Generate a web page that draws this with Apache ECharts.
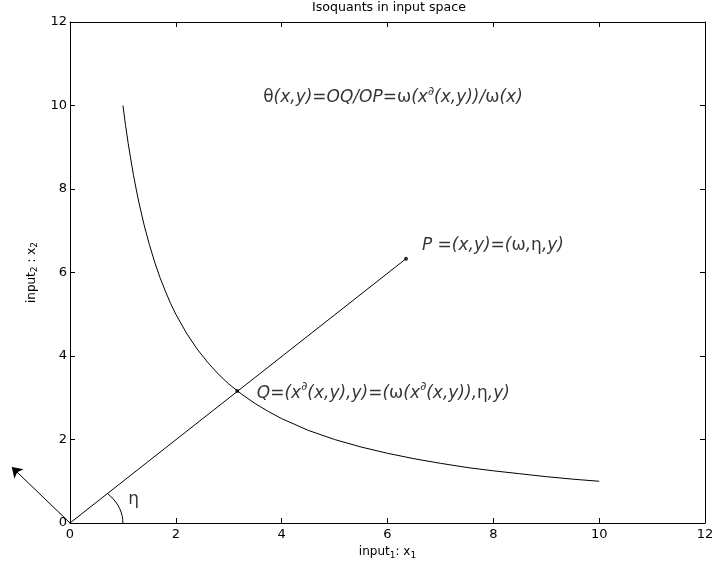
<!DOCTYPE html>
<html>
<head>
<meta charset="utf-8">
<script src="https://cdn.jsdelivr.net/npm/echarts@6/dist/echarts.min.js"></script>
<style>
  html, body { margin: 0; padding: 0; background: #fff; }
  #main { width: 714px; height: 569px; }
</style>
</head>
<body>
<div id="main"></div>
<script>
  // isoquant curve
  var curveX = [1, 1.05, 1.1, 1.15, 1.2, 1.25, 1.3, 1.4, 1.5, 1.6, 1.7, 1.8, 1.9, 2, 2.2, 2.4, 2.6, 2.8, 3, 3.25, 3.5, 3.75, 4, 4.5, 5, 5.5, 6, 6.5, 7, 7.5, 8, 8.5, 9, 9.5, 10]
  var curveY = [10, 9.52, 9.09, 8.7, 8.33, 8, 7.69, 7.14, 6.67, 6.25, 5.88, 5.56, 5.26, 5, 4.55, 4.17, 3.85, 3.57, 3.33, 3.08, 2.86, 2.67, 2.5, 2.22, 2, 1.82, 1.67, 1.54, 1.43, 1.33, 1.25, 1.18, 1.11, 1.05, 1]
  // ray O -> P
  var rayX = [0, 6.35]
  var rayY = [0, 6.33]
  // angle arc (eta), radius 1
  var arcX = [1, 0.996, 0.985, 0.966, 0.940, 0.906, 0.866, 0.819, 0.766, 0.707]
  var arcY = [0, 0.087, 0.174, 0.259, 0.342, 0.423, 0.5, 0.574, 0.643, 0.707]
  // arrow from origin
  var arrowFrom = [0, 0]
  var arrowTo = [-1.1, 1.34]
  // marked points
  var pointP = [6.35, 6.33]
  var pointQ = [3.16, 3.16]
  // annotation anchors
  var thetaPos = [3.65, 10.18]
  var pLabelPos = [6.65, 6.64]
  var qLabelPos = [3.53, 3.11]
  var etaPos = [1.1, 0.55]
  var xTicks = [0, 2, 4, 6, 8, 10, 12]
  var yTicks = [0, 2, 4, 6, 8, 10, 12]

  function zip(a, b) {
    return a.map(function(v, i) { return [v, b[i]] })
  }

  var font = 'DejaVu Sans, sans-serif'
  var big = 17
  var richMath = {
    it: { fontFamily: font, fontStyle: 'italic', fontSize: big, color: '#000' },
    up: { fontFamily: font, fontSize: big, color: '#000' },
    sup: { fontFamily: font, fontStyle: 'italic', fontSize: 12, color: '#000', padding: [0, 0, 12, 0] }
  }
  var richName = {
    n: { fontFamily: font, fontSize: 12, color: '#000' },
    s: { fontFamily: font, fontSize: 9, color: '#000', padding: [7, 0, 0, 0] }
  }

  var axisCommon = {
    type: 'value',
    min: 0,
    max: 12,
    interval: 2,
    axisLine: { show: true, onZero: false, lineStyle: { color: '#000', width: 1 } },
    axisTick: { show: true, inside: true, length: 5, lineStyle: { color: '#000' } },
    splitLine: { show: false }
  }

  var chart = echarts.init(document.getElementById('main'), null, { renderer: 'canvas' })
  chart.setOption({
    backgroundColor: '#fff',
    animation: false,
    title: {
      text: 'Isoquants in input space',
      left: 312,
      top: 1,
      padding: 0,
      textStyle: { fontFamily: font, fontSize: 12.6, fontWeight: 'normal', color: '#000' }
    },
    grid: { left: 70, right: 9, top: 22, bottom: 46, containLabel: false, outerBoundsMode: 'none' },
    xAxis: [
      Object.assign({}, axisCommon, {
        position: 'bottom',
        axisLabel: {
          color: '#000', fontFamily: font, fontSize: 13, margin: 5,
          formatter: function(v) { return xTicks.indexOf(v) >= 0 ? String(v) : '' }
        },
        name: '{n|input}{s|1}{n|: x}{s|1}',
        nameLocation: 'middle',
        nameGap: 18,
        nameTextStyle: { rich: richName }
      }),
      Object.assign({}, axisCommon, {
        position: 'top',
        axisLabel: { show: false }
      })
    ],
    yAxis: [
      Object.assign({}, axisCommon, {
        position: 'left',
        axisLabel: {
          color: '#000', fontFamily: font, fontSize: 13, margin: 3,
          formatter: function(v) { return yTicks.indexOf(v) >= 0 ? String(v) : '' }
        },
        name: '{n|input}{s|2}{n| : x}{s|2}',
        nameLocation: 'middle',
        nameGap: 28,
        nameRotate: 90,
        nameTextStyle: { rich: richName }
      }),
      Object.assign({}, axisCommon, {
        position: 'right',
        axisLabel: { show: false }
      })
    ],
    series: [
      {
        name: 'isoquant',
        type: 'line',
        data: zip(curveX, curveY),
        symbol: 'none',
        lineStyle: { color: '#000', width: 1 }
      },
      {
        name: 'ray',
        type: 'line',
        data: zip(rayX, rayY),
        symbol: 'none',
        lineStyle: { color: '#000', width: 1 }
      },
      {
        name: 'arc',
        type: 'line',
        data: zip(arcX, arcY),
        symbol: 'none',
        lineStyle: { color: '#000', width: 1 }
      },
      {
        name: 'arrow',
        type: 'lines',
        coordinateSystem: 'cartesian2d',
        clip: false,
        symbol: ['none', 'arrow'],
        symbolSize: 10,
        lineStyle: { color: '#000', width: 1, opacity: 1 },
        data: [{ coords: [arrowFrom, arrowTo] }]
      },
      {
        name: 'points',
        type: 'scatter',
        symbolSize: 4,
        itemStyle: { color: '#000' },
        data: [pointP, pointQ]
      },
      {
        name: 'notes',
        type: 'scatter',
        symbolSize: 0,
        silent: true,
        clip: false,
        label: {
          show: true,
          position: 'right',
          distance: 0,
          color: '#000',
          rich: richMath
        },
        data: [
          {
            value: thetaPos,
            label: { formatter: '{up|θ}{it|(x,y)=OQ/OP=}{up|ω}{it|(x}{sup|∂}{it|(x,y))/}{up|ω}{it|(x)}' }
          },
          {
            value: pLabelPos,
            label: { formatter: '{it|P =(x,y)=(}{up|ω}{it|,}{up|η}{it|,y)}' }
          },
          {
            value: qLabelPos,
            label: { formatter: '{it|Q=(x}{sup|∂}{it|(x,y),y)=(}{up|ω}{it|(x}{sup|∂}{it|(x,y)),}{up|η}{it|,y)}' }
          },
          {
            value: etaPos,
            label: { formatter: '{up|η}' }
          }
        ]
      }
    ]
  })
</script>
</body>
</html>
